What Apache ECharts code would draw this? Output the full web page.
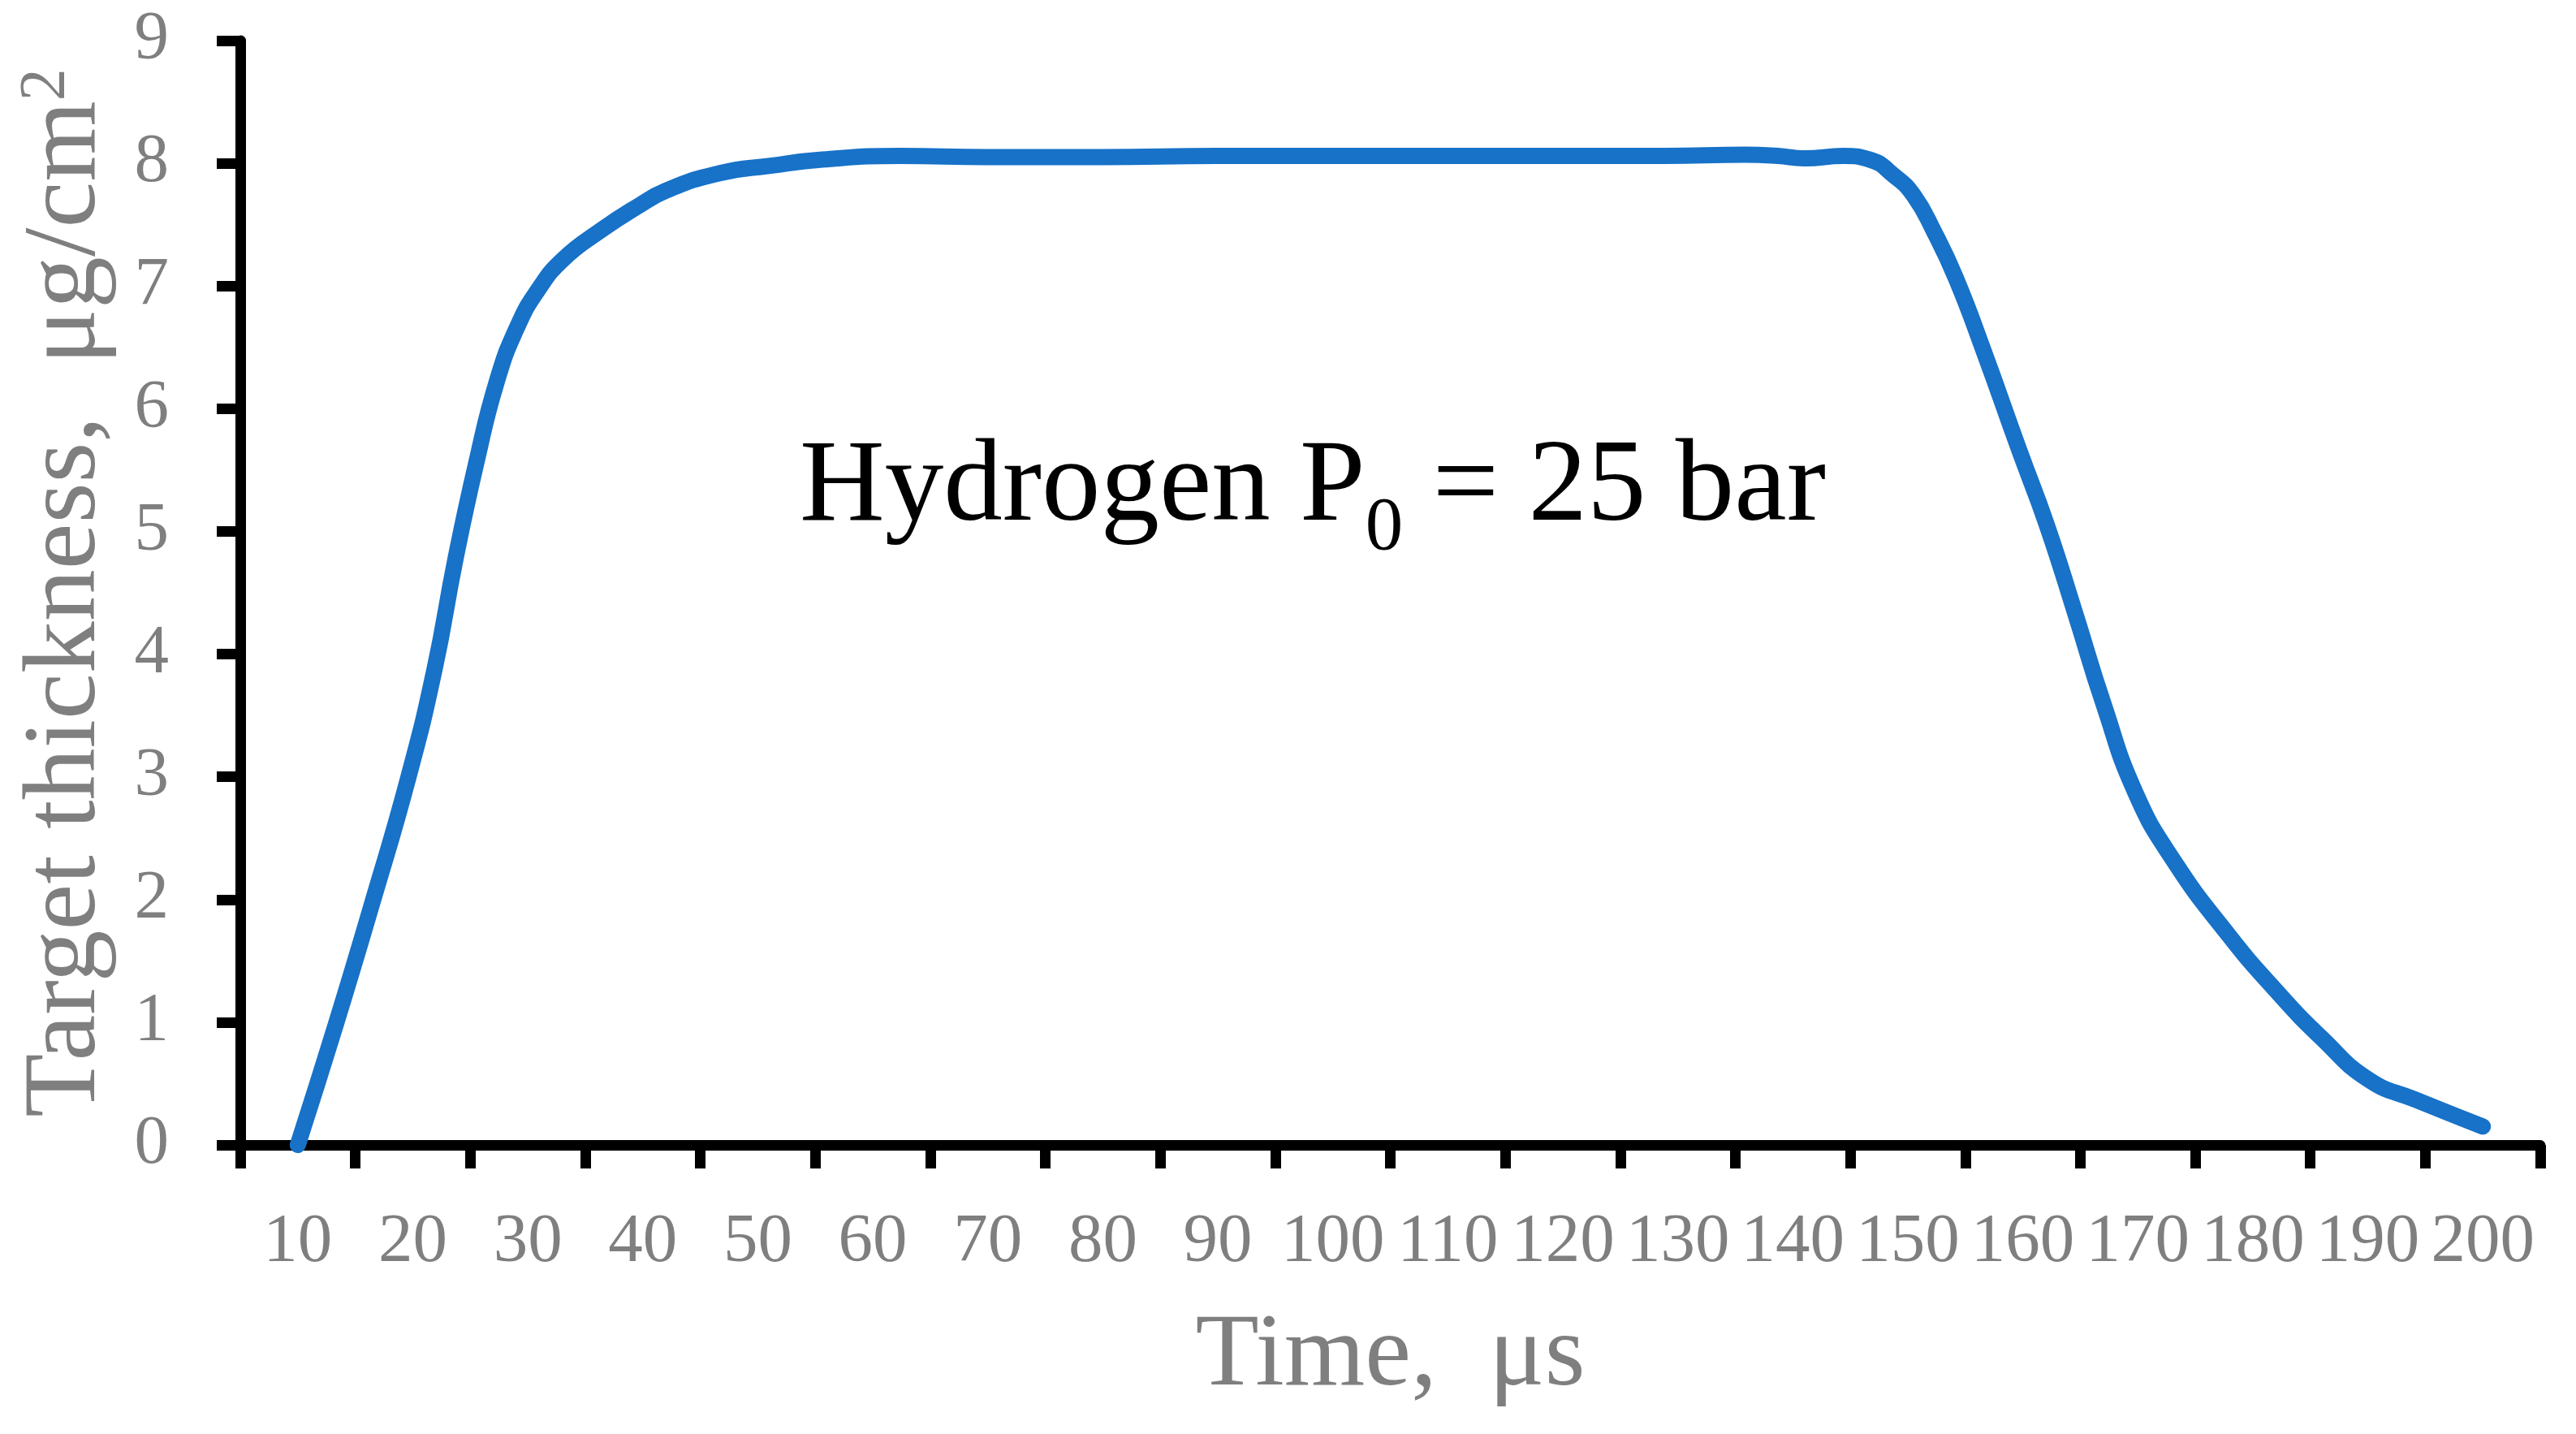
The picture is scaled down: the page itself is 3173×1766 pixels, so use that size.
<!DOCTYPE html>
<html>
<head>
<meta charset="utf-8">
<title>Target thickness</title>
<script src="https://cdn.jsdelivr.net/npm/echarts@6/dist/echarts.min.js"></script>
<style>
html, body {
  margin: 0;
  padding: 0;
  background: #fff;
}
#chart {
  width: 3173px;
  height: 1766px;
}
</style>
</head>
<body>
<div id="chart"></div>
<script>
// category tick labels on the time axis
const timeLabels = ['10', '20', '30', '40', '50', '60', '70', '80', '90', '100',
  '110', '120', '130', '140', '150', '160', '170', '180', '190', '200']

// curve: time (us) and target thickness (ug/cm2)
const timeUs = [10, 13.3, 16.5, 19.6, 21.9, 23.7, 25.5, 27.3, 29.1, 30.9,
  33.1, 36.3, 39.4, 42.1, 46.7, 51.1, 55.6, 62.4, 70, 80,
  90, 100, 110, 120, 128.8, 135.9, 138.7, 141, 144.4, 146.7,
  148.8, 150.5, 152.3, 154.2, 156.6, 159.7, 162.1, 164.6, 167, 169.8,
  173.1, 177.9, 182, 186, 190.1, 194.1, 200]
const thickness = [0, 0.98, 1.98, 2.99, 3.88, 4.77, 5.55, 6.22, 6.67, 6.97,
  7.22, 7.45, 7.64, 7.78, 7.92, 7.98, 8.03, 8.06, 8.05, 8.05,
  8.06, 8.06, 8.06, 8.06, 8.06, 8.07, 8.06, 8.04, 8.06, 8.03,
  7.9, 7.74, 7.44, 7.06, 6.47, 5.66, 5.05, 4.32, 3.6, 2.87,
  2.32, 1.71, 1.26, 0.87, 0.53, 0.37, 0.15]

const yTicks = { min: 0, max: 9, interval: 1 }

const FONT = 'Liberation Serif'
const GRAY = '#7f7f7f'

const chart = echarts.init(document.getElementById('chart'))

const points = timeUs.map((t, i) => [t, thickness[i]])

const option = {
  backgroundColor: '#fff',
  animation: false,
  grid: {
    left: 296,
    right: 44,
    top: 50,
    bottom: 356
  },
  xAxis: [
    {
      type: 'category',
      data: timeLabels,
      boundaryGap: true,
      axisLine: { show: true, lineStyle: { color: '#000', width: 13 } },
      axisTick: { show: true, interval: 0, length: 29, lineStyle: { color: '#000', width: 13 } },
      axisLabel: {
        interval: 0,
        margin: 78,
        color: GRAY,
        fontSize: 85,
        fontFamily: FONT
      },
      splitLine: { show: false },
      name: 'Time,  μs',
      nameLocation: 'middle',
      nameGap: 197,
      nameTextStyle: { color: GRAY, fontSize: 128, fontFamily: FONT }
    },
    {
      // hidden value axis that places the curve in microseconds
      type: 'value',
      min: 5,
      max: 205,
      show: false
    }
  ],
  yAxis: {
    type: 'value',
    min: yTicks.min,
    max: yTicks.max,
    interval: yTicks.interval,
    axisLine: { show: true, lineStyle: { color: '#000', width: 13 } },
    axisTick: { show: true, length: 29, lineStyle: { color: '#000', width: 13 } },
    axisLabel: {
      margin: 88,
      color: GRAY,
      fontSize: 85,
      fontFamily: FONT
    },
    splitLine: { show: false },
    name: '{t|Target thickness,  μg/cm}{sup|2}',
    nameLocation: 'middle',
    nameGap: 150,
    nameTextStyle: {
      color: GRAY,
      fontFamily: FONT,
      rich: {
        t: { fontSize: 128, lineHeight: 128, verticalAlign: 'middle', color: GRAY, fontFamily: FONT },
        sup: { fontSize: 80, lineHeight: 80, verticalAlign: 'top', color: GRAY, fontFamily: FONT }
      }
    }
  },
  graphic: [
    {
      type: 'text',
      x: 985,
      y: 505,
      style: {
        text: '{m|Hydrogen P}{sub|0}{m| = 25 bar}',
        verticalAlign: 'top',
        rich: {
          m: { fontSize: 145, lineHeight: 193, verticalAlign: 'middle', fill: '#000', fontFamily: FONT },
          sub: { fontSize: 93, lineHeight: 93, verticalAlign: 'bottom', fill: '#000', fontFamily: FONT }
        }
      }
    }
  ],
  series: [
    {
      type: 'line',
      xAxisIndex: 1,
      data: points,
      smooth: 0.5,
      showSymbol: false,
      lineStyle: { color: '#1772c8', width: 20, cap: 'round', join: 'round' }
    }
  ]
}

chart.setOption(option)
window.addEventListener('resize', () => chart.resize())
</script>
</body>
</html>
